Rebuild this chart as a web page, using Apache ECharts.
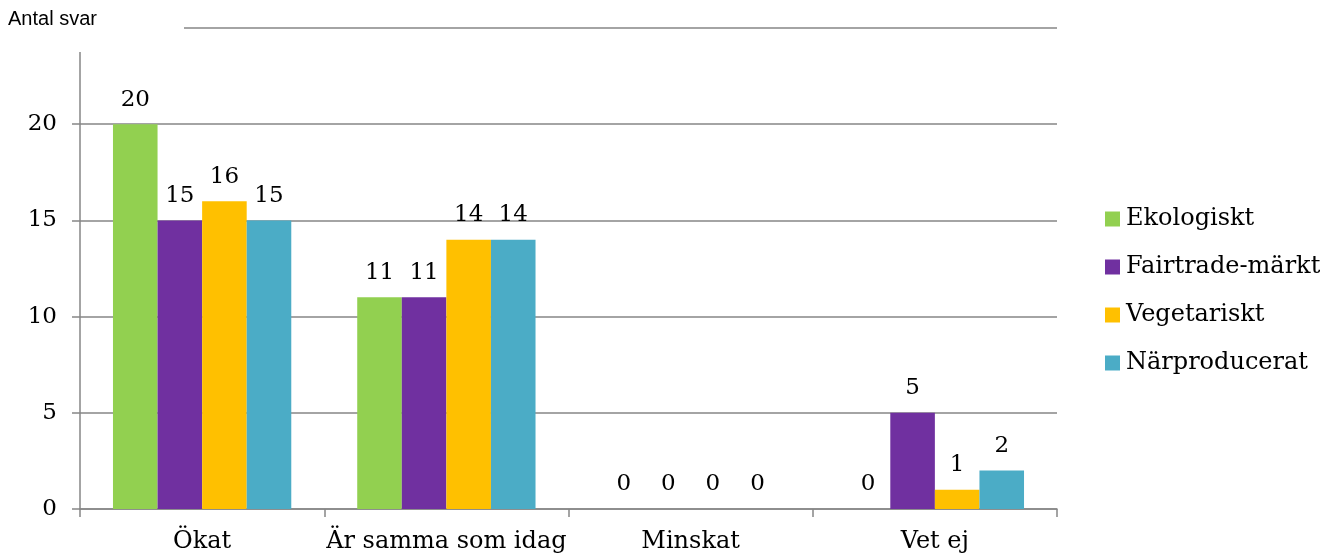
<!DOCTYPE html>
<html>
<head>
<meta charset="utf-8">
<script src="https://cdn.jsdelivr.net/npm/echarts@6/dist/echarts.min.js"></script>
<style>
  html, body { margin: 0; padding: 0; background: #fff; }
  #main { width: 1320px; height: 557px; }
</style>
</head>
<body>
<div id="main"></div>
<script>
  const categories = ['Ökat', 'Är samma som idag', 'Minskat', 'Vet ej']
  const seriesNames = ['Ekologiskt', 'Fairtrade-märkt', 'Vegetariskt', 'Närproducerat']
  const ekologiskt = [20, 11, 0, 0]
  const fairtrade = [15, 11, 0, 5]
  const vegetariskt = [16, 14, 0, 1]
  const narproducerat = [15, 14, 0, 2]
  const colors = ['#92D050', '#7030A0', '#FFC000', '#4BACC6']

  const serif = 'DejaVu Serif'
  const values = [ekologiskt, fairtrade, vegetariskt, narproducerat]

  const myChart = echarts.init(document.getElementById('main'))
  const option = {
    animation: false,
    backgroundColor: '#fff',
    color: colors,
    grid: { left: 80, right: 263, top: 28, bottom: 48 },
    legend: {
      orient: 'vertical',
      left: 1100,
      top: 202,
      itemWidth: 15,
      itemHeight: 15,
      itemGap: 24,
      icon: 'rect',
      textStyle: { fontFamily: serif, fontSize: 24, color: '#000', padding: [0, 0, 0, 1] },
      data: seriesNames
    },
    xAxis: {
      type: 'category',
      data: categories,
      axisLine: { lineStyle: { color: '#868686', width: 1.5 } },
      axisTick: { show: true, length: 8, lineStyle: { color: '#868686', width: 1.5 } },
      axisLabel: { interval: 0, fontFamily: serif, fontSize: 24, color: '#000', margin: 21 }
    },
    yAxis: {
      type: 'value',
      min: 0,
      max: 25,
      interval: 5,
      axisLine: { show: true, lineStyle: { color: '#868686', width: 1.5 } },
      axisTick: { show: true, length: 8, lineStyle: { color: '#868686', width: 1.5 } },
      axisLabel: {
        fontFamily: serif, fontSize: 23, color: '#000', margin: 23,
        formatter: function (v) { return v === 25 ? '' : v }
      },
      splitLine: { lineStyle: { color: '#868686', width: 1.5 } }
    },
    graphic: [
      { type: 'rect', left: 0, top: 0, z: 100, shape: { width: 184, height: 52 }, style: { fill: '#fff' } },
      { type: 'text', left: 8, top: 9, z: 101, style: { text: 'Antal svar', font: '20px "Liberation Sans"', fill: '#000' } }
    ],
    series: seriesNames.map(function (name, i) {
      return {
        name: name,
        type: 'bar',
        data: values[i],
        barGap: 0,
        barCategoryGap: '27%',
        label: { show: true, position: 'top', distance: 13, fontFamily: serif, fontSize: 23, color: '#000' }
      }
    })
  }
  myChart.setOption(option, true)
</script>
</body>
</html>
